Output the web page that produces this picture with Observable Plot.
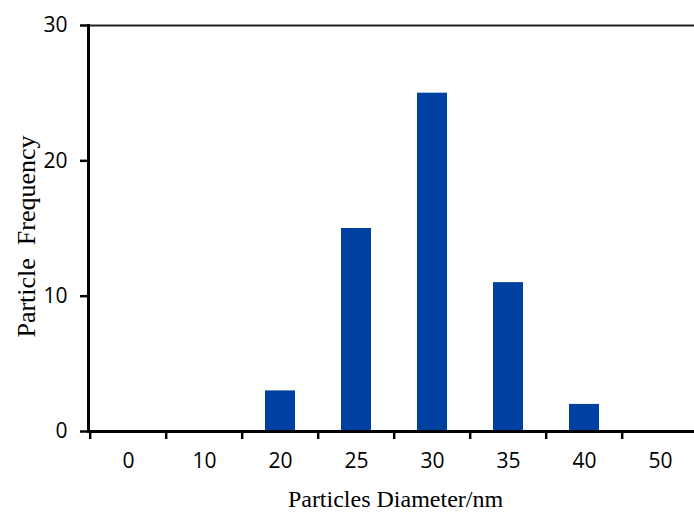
<!DOCTYPE html>
<html>
<head>
<meta charset="utf-8">
<script src="https://cdn.jsdelivr.net/npm/d3@7"></script>
<script src="https://cdn.jsdelivr.net/npm/@observablehq/plot@0.6"></script>
<style>
  html, body { margin: 0; padding: 0; background: #fff; overflow: hidden; }
</style>
</head>
<body>
<div id="chart"></div>
<script>
const diameters = ["0", "10", "20", "25", "30", "35", "40", "50"];
const frequency = [0, 0, 3, 15, 25, 11, 2, 0];
const yTicks = [0, 10, 20, 30];
const xTitle = "Particles Diameter/nm";
const yTitle = "Particle  Frequency";

const data = diameters.map((d, i) => ({diameter: d, frequency: frequency[i]}));

const W = 694, H = 513;
const mLeft = 88, xEnd = 701, mTop = 25, yBase = 431;
const step = (xEnd - mLeft) / diameters.length;

const chart = Plot.plot({
  width: W,
  height: H,
  marginLeft: mLeft,
  marginRight: 0,
  marginTop: mTop,
  marginBottom: H - yBase,
  style: {fontFamily: "Open Sans, sans-serif", overflow: "visible", background: "#fff"},
  x: {domain: diameters, range: [mLeft, xEnd], paddingInner: 0.6, paddingOuter: 0.3, label: null},
  y: {domain: [0, 30], range: [yBase, mTop], label: null},
  marks: [
    Plot.barY(data, {x: "diameter", y: "frequency", fill: "#0040A0"}),
    Plot.ruleX(diameters, {x: d => d, dx: -step / 2, y1: 0, y2: 0, stroke: "#000", strokeWidth: 2.5,
      render: (index, scales, values, dims, ctx, next) => {
        const g = d3.select(next(index, scales, values, dims, ctx));
        g.selectAll("line").attr("y2", yBase + 8);
        return g.node();
      }}),
    Plot.frame({anchor: "top", stroke: "#222", strokeWidth: 2}),
    Plot.frame({anchor: "bottom", stroke: "#000", strokeWidth: 3}),
    Plot.frame({anchor: "left", stroke: "#000", strokeWidth: 3}),
    Plot.axisY({ticks: yTicks, tickSize: 8, tickPadding: 13, fontSize: 21, strokeWidth: 2.5, tickFormat: d => d, label: null}),
    Plot.axisX({tickSize: 0, tickPadding: 22, fontSize: 21, label: null}),
    Plot.text([xTitle], {frameAnchor: "bottom", dx: 4, dy: 68, text: d => d, fontFamily: "Liberation Serif, Times New Roman, serif", fontSize: 24, fill: "#000", lineAnchor: "middle"}),
    Plot.text([yTitle], {frameAnchor: "left", dx: -62, dy: 8, rotate: -90, textAnchor: "middle", text: d => d, fontFamily: "Liberation Serif, Times New Roman, serif", fontSize: 26, fill: "#000"})
  ]
});
document.getElementById("chart").appendChild(chart);
</script>
</body>
</html>
